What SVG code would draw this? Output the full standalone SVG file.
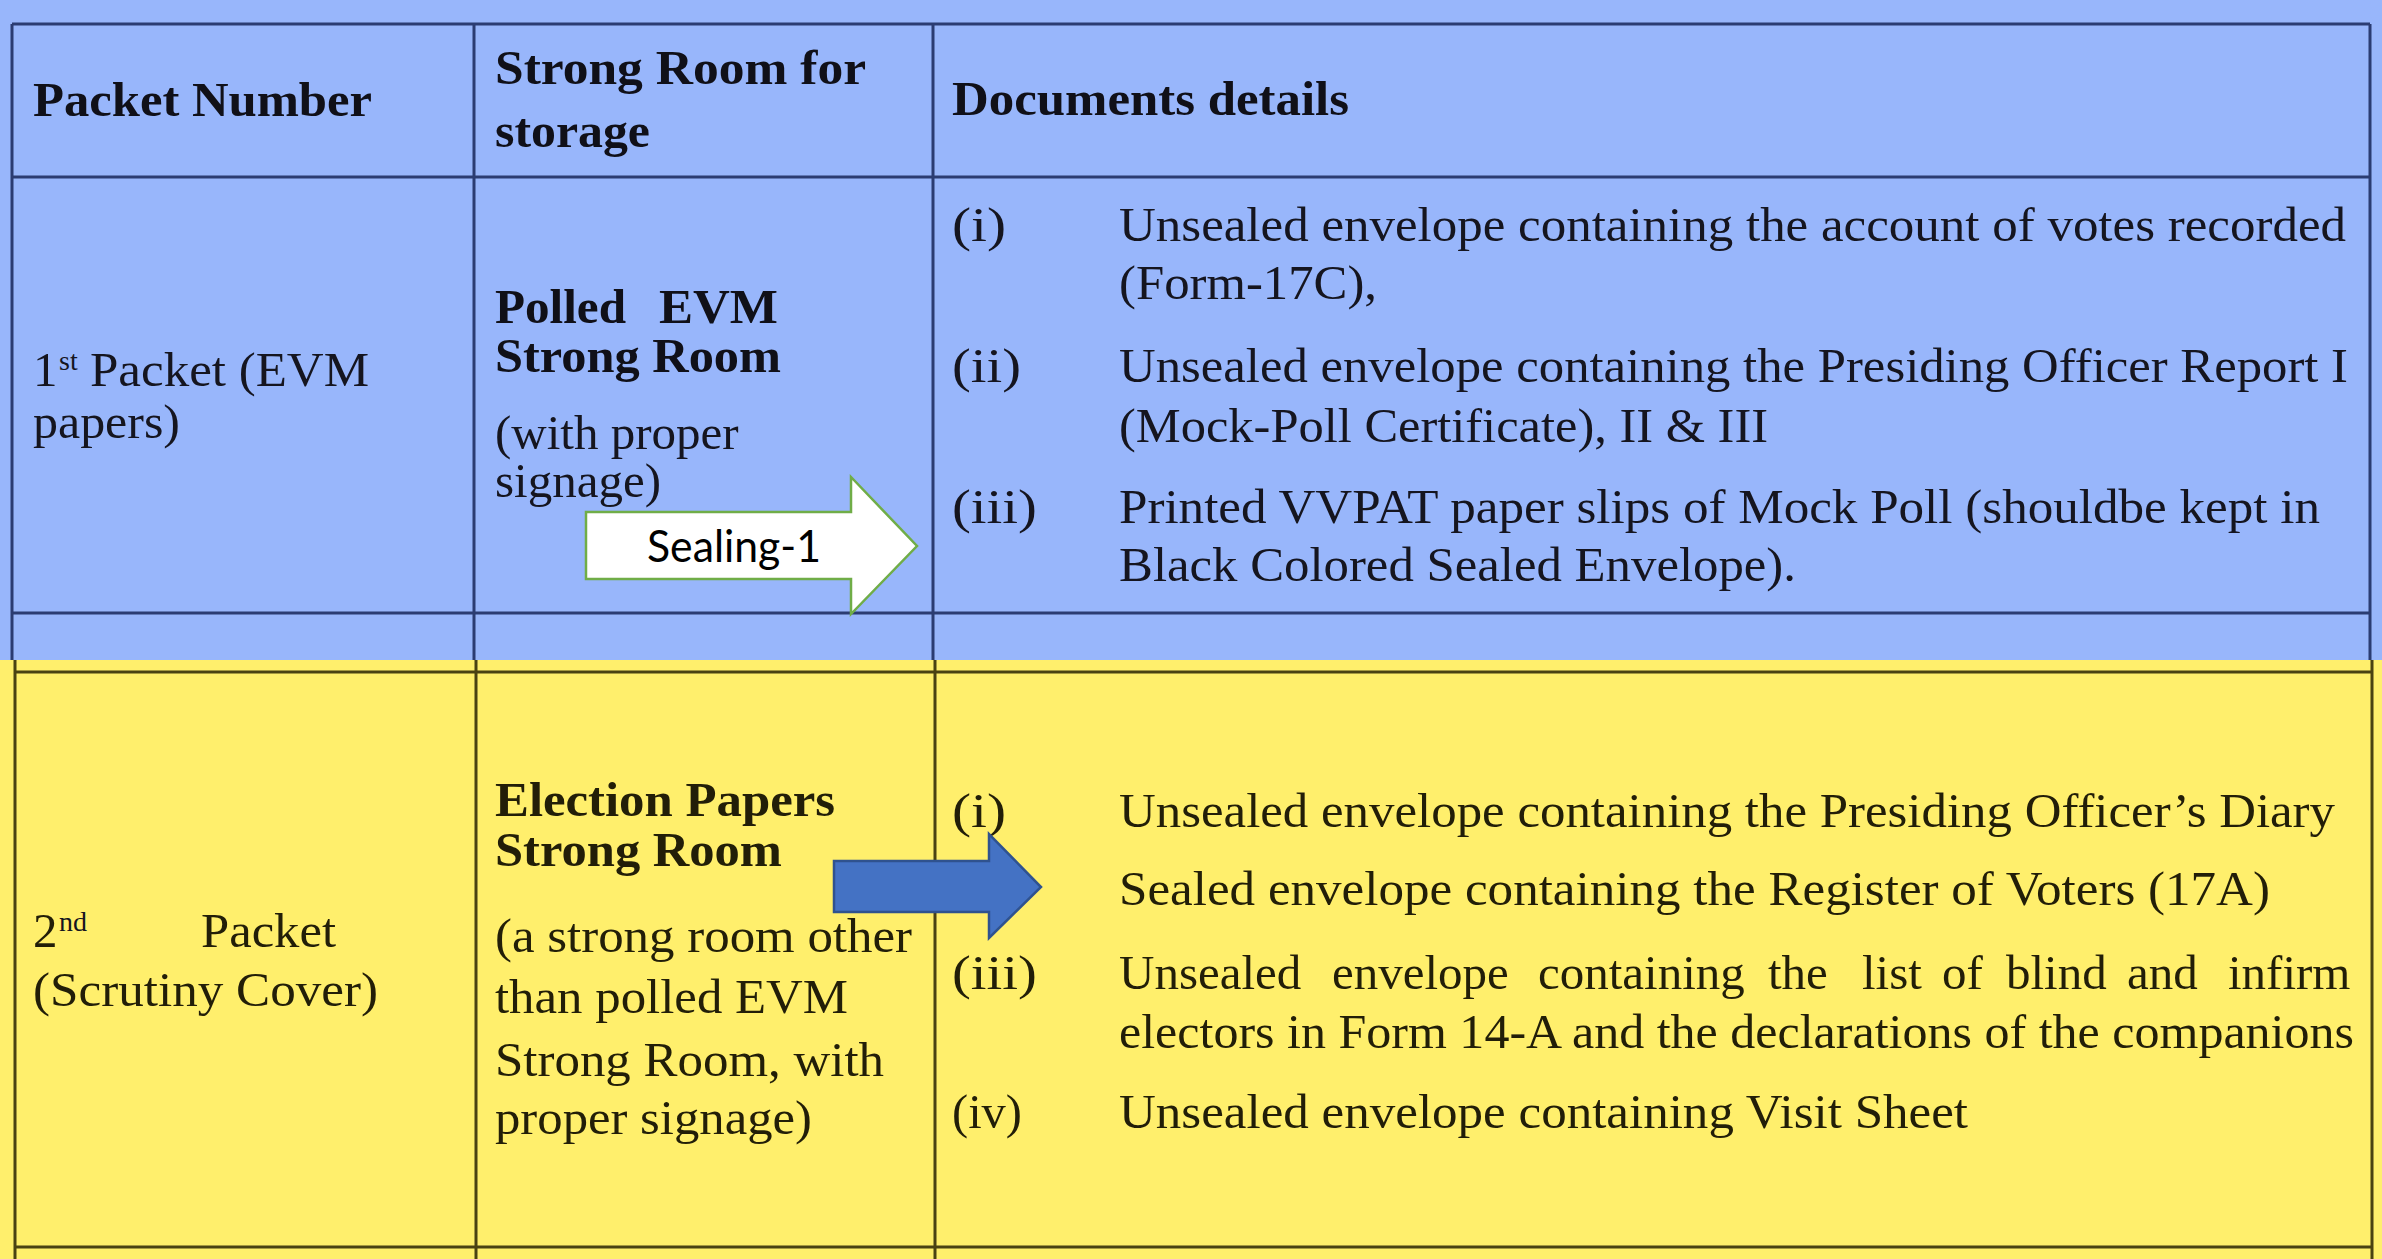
<svg xmlns="http://www.w3.org/2000/svg" width="2382" height="1259" viewBox="0 0 2382 1259">
<style>
.t{font-family:"Liberation Serif","Times New Roman",serif;font-size:49px;fill:#15151f}
.b{font-family:"Liberation Serif","Times New Roman",serif;font-size:48px;font-weight:bold;fill:#101018}
.y{fill:#221e08}
.sup{font-family:"Liberation Serif","Times New Roman",serif;font-size:28px;fill:#15151f}
.lb{stroke:#2b3c72;stroke-width:3;fill:none}
.ly{stroke:#4a4212;stroke-width:3;fill:none}
.lab{font-family:Lato,"Open Sans","Liberation Sans",sans-serif;font-size:44px;fill:#000}
</style>
<g id="background">
<rect x="0" y="0" width="2382" height="660" fill="#98b6fb"/>
<rect x="0" y="660" width="2382" height="599" fill="#ffef6c"/>
</g>
<g id="grid">
<path class="lb" d="M12,24H2370M12,177H2370M12,613H2370M12,24V660M474,24V660M933,24V660M2370,24V660"/>
<path class="ly" d="M15,672H2372M15,1247H2372M15,660V1259M476,660V1259M935,660V1259M2372,660V1259"/>
</g>
<g id="header">
<text class="b" x="33" y="116" textLength="339" lengthAdjust="spacingAndGlyphs">Packet Number</text>
<text class="b" x="495" y="84" textLength="371" lengthAdjust="spacingAndGlyphs">Strong  Room for</text>
<text class="b" x="495" y="147" textLength="155" lengthAdjust="spacingAndGlyphs">storage</text>
<text class="b" x="952" y="115" textLength="397" lengthAdjust="spacingAndGlyphs">Documents details</text>
</g>
<g id="packet1">
<text class="t" x="33" y="386">1</text>
<text class="sup" x="59" y="370">st</text>
<text class="t" x="90" y="386" textLength="279" lengthAdjust="spacingAndGlyphs">Packet (EVM</text>
<text class="t" x="33" y="438" textLength="147" lengthAdjust="spacingAndGlyphs">papers)</text>
</g>
<g id="room1">
<text class="b" x="495" y="323" textLength="131" lengthAdjust="spacingAndGlyphs">Polled</text>
<text class="b" x="659" y="323" textLength="119" lengthAdjust="spacingAndGlyphs">EVM</text>
<text class="b" x="495" y="372" textLength="286" lengthAdjust="spacingAndGlyphs">Strong Room</text>
<text class="t"><tspan x="495" y="449">(with proper</tspan><tspan x="495" y="497">signage)</tspan></text>
</g>
<g id="docs1">
<text class="t" x="952" y="241" textLength="54" lengthAdjust="spacingAndGlyphs">(i)</text>
<text class="t" x="1119" y="241" textLength="1227" lengthAdjust="spacingAndGlyphs">Unsealed envelope containing the account of votes recorded</text>
<text class="t" x="1119" y="299" textLength="258" lengthAdjust="spacingAndGlyphs">(Form-17C),</text>
<text class="t" x="952" y="382" textLength="69" lengthAdjust="spacingAndGlyphs">(ii)</text>
<text class="t" x="1119" y="382" textLength="1229" lengthAdjust="spacingAndGlyphs">Unsealed envelope containing the Presiding Officer Report I</text>
<text class="t" x="1119" y="442" textLength="649" lengthAdjust="spacingAndGlyphs">(Mock-Poll Certificate), II &amp; III</text>
<text class="t" x="952" y="523" textLength="85" lengthAdjust="spacingAndGlyphs">(iii)</text>
<text class="t" x="1119" y="523" textLength="1201" lengthAdjust="spacingAndGlyphs">Printed VVPAT paper slips of Mock Poll (shouldbe kept in</text>
<text class="t" x="1119" y="581" textLength="677" lengthAdjust="spacingAndGlyphs">Black Colored Sealed Envelope).</text>
</g>
<g id="packet2">
<text class="t y" x="33" y="947">2</text>
<text class="sup y" x="59" y="931">nd</text>
<text class="t y" x="201" y="947" textLength="135" lengthAdjust="spacingAndGlyphs">Packet</text>
<text class="t y" x="33" y="1006" textLength="345" lengthAdjust="spacingAndGlyphs">(Scrutiny Cover)</text>
</g>
<g id="room2">
<text class="b y" x="495" y="816" textLength="340" lengthAdjust="spacingAndGlyphs">Election Papers</text>
<text class="b y" x="495" y="866" textLength="287" lengthAdjust="spacingAndGlyphs">Strong Room</text>
<text class="t y" x="495" y="952" textLength="417" lengthAdjust="spacingAndGlyphs">(a strong room other</text>
<text class="t y" x="495" y="1013" textLength="353" lengthAdjust="spacingAndGlyphs">than polled EVM</text>
<text class="t y" x="495" y="1076" textLength="389" lengthAdjust="spacingAndGlyphs">Strong Room, with</text>
<text class="t y" x="495" y="1134" textLength="317" lengthAdjust="spacingAndGlyphs">proper signage)</text>
</g>
<g id="docs2">
<text class="t y" x="952" y="827" textLength="54" lengthAdjust="spacingAndGlyphs">(i)</text>
<text class="t y" x="1119" y="827" textLength="1216" lengthAdjust="spacingAndGlyphs">Unsealed envelope containing the Presiding Officer’s Diary</text>
<text class="t y" x="1119" y="905" textLength="1151" lengthAdjust="spacingAndGlyphs">Sealed envelope containing the Register of Voters (17A)</text>
<text class="t y" x="952" y="989" textLength="85" lengthAdjust="spacingAndGlyphs">(iii)</text>
<text class="t y" y="989"><tspan x="1119">Unsealed</tspan><tspan x="1332">envelope</tspan><tspan x="1538">containing</tspan><tspan x="1768">the</tspan><tspan x="1862">list</tspan><tspan x="1942">of</tspan><tspan x="2006">blind</tspan><tspan x="2127">and</tspan><tspan x="2228">infirm</tspan></text>
<text class="t y" x="1119" y="1048" textLength="1235" lengthAdjust="spacingAndGlyphs">electors in Form 14-A and the declarations of the companions</text>
<text class="t y" x="952" y="1128" textLength="70" lengthAdjust="spacingAndGlyphs">(iv)</text>
<text class="t y" x="1119" y="1128" textLength="849" lengthAdjust="spacingAndGlyphs">Unsealed envelope containing Visit Sheet</text>
</g>
<g id="connectors">
<g id="sealing1">
<path d="M586,512H851V477L917,546L851,614V579H586Z" fill="#ffffff" stroke="#70ad47" stroke-width="2.5" stroke-linejoin="miter"/>
<text class="lab" x="647" y="562" textLength="174" lengthAdjust="spacingAndGlyphs">Sealing-1</text>
</g>
<path id="arrow2" d="M834,861H989V834L1041,887L989,938V912H834Z" fill="#4472c4" stroke="#2f528f" stroke-width="2.5"/>
</g>
</svg>
